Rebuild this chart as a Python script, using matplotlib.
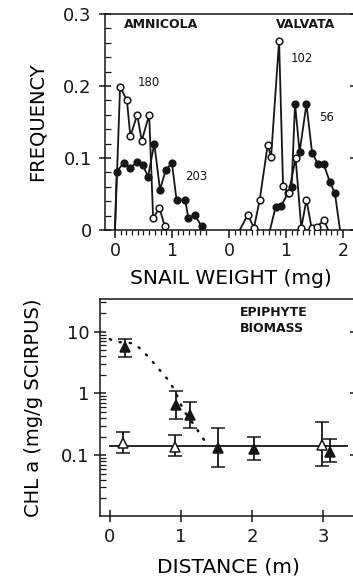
import numpy as np
import matplotlib
matplotlib.use("Agg")
import matplotlib.pyplot as plt

INK = '#161616'

# ---- top panel: size frequency distributions ----
amn_open_x = [0.0, 0.09, 0.21, 0.27, 0.39, 0.47, 0.60, 0.67, 0.78, 0.87]
amn_open_y = [0.0, 0.199, 0.180, 0.130, 0.160, 0.124, 0.160, 0.016, 0.031, 0.006]
amn_fill_x = [0.0, 0.03, 0.15, 0.26, 0.39, 0.49, 0.58, 0.69, 0.79, 0.89, 1.00, 1.08, 1.23, 1.29, 1.40, 1.52]
amn_fill_y = [0.0, 0.081, 0.093, 0.086, 0.094, 0.090, 0.074, 0.120, 0.056, 0.083, 0.093, 0.042, 0.042, 0.016, 0.021, 0.005]

val_open_x = [0.19, 0.33, 0.44, 0.54, 0.68, 0.74, 0.88, 0.95, 1.05, 1.17, 1.27, 1.36, 1.45, 1.54, 1.67, 1.74]
val_open_y = [0.0, 0.021, 0.003, 0.042, 0.118, 0.102, 0.263, 0.061, 0.051, 0.100, 0.003, 0.042, 0.003, 0.004, 0.014, 0.0]
val_fill_x = [0.72, 0.82, 0.92, 1.04, 1.10, 1.16, 1.24, 1.36, 1.46, 1.56, 1.66, 1.77, 1.86, 1.95]
val_fill_y = [0.0, 0.032, 0.034, 0.052, 0.060, 0.175, 0.108, 0.175, 0.107, 0.092, 0.092, 0.067, 0.051, 0.0]

n_labels = ['180', '203', '102', '56']

# ---- bottom panel: epiphyte biomass ----
fill_dist = [0.21, 0.93, 1.12, 1.52, 2.02, 3.09]
fill_chl = [5.7, 0.66, 0.45, 0.13, 0.127, 0.114]
fill_hi = [7.6, 1.1, 0.73, 0.28, 0.195, 0.18]
fill_lo = [3.9, 0.39, 0.28, 0.063, 0.083, 0.078]

open_dist = [0.19, 0.92, 2.98]
open_chl = [0.155, 0.137, 0.145]
open_hi = [0.24, 0.21, 0.35]
open_lo = [0.11, 0.098, 0.066]

mean_x = [0.0, 3.33]
mean_y = [0.142, 0.142]

curve_x = [0.0, 0.07, 0.33, 0.42, 0.56, 0.68, 0.82, 0.92, 1.03, 1.20, 1.29, 1.36]
curve_y = [7.6, 6.9, 6.5, 5.4, 3.7, 2.55, 1.65, 1.07, 0.54, 0.29, 0.20, 0.155]

VAL_OFFSET = 2.0  # valvata drawn on the right half of the shared axis

plt.rcParams['font.family'] = 'DejaVu Sans'
plt.rcParams['text.color'] = INK
plt.rcParams['axes.edgecolor'] = INK
plt.rcParams['xtick.color'] = INK
plt.rcParams['ytick.color'] = INK

fig = plt.figure(figsize=(3.53, 5.81), dpi=100)

# ---------- top ----------
# right spine sits just off the page, like the cropped scan
ax1 = fig.add_axes([105 / 353, 1 - 230 / 581, 251 / 353, 216 / 581])
line_kw = dict(color=INK, lw=1.3)


def series(ax, x, y, filled, offset=0.0, mark_ends=(1, None)):
    xs = np.asarray(x) + offset
    ax.plot(xs, y, **line_kw, zorder=2)
    s = slice(*mark_ends)
    ax.plot(xs[s], np.asarray(y)[s], ls='none', marker='o', ms=4.8,
            mfc=INK if filled else 'white', mec=INK, mew=1.1, zorder=3)


series(ax1, amn_fill_x, amn_fill_y, True, mark_ends=(1, None))
series(ax1, amn_open_x, amn_open_y, False, mark_ends=(1, None))
series(ax1, val_fill_x, val_fill_y, True, VAL_OFFSET, mark_ends=(1, -1))
series(ax1, val_open_x, val_open_y, False, VAL_OFFSET, mark_ends=(1, -1))

ax1.set_xlim(-0.175, 4.23)
ax1.set_ylim(0, 0.3)
ax1.set_xticks([0, 1, VAL_OFFSET, VAL_OFFSET + 1, VAL_OFFSET + 2])
ax1.set_xticklabels(['0', '1', '0', '1', '2'])
minor_x = list(np.arange(0, 1.61, 0.1)) + list(VAL_OFFSET + np.arange(0, 2.01, 0.1))
ax1.set_xticks(minor_x, minor=True)
ax1.set_yticks([0, 0.1, 0.2, 0.3])
ax1.set_yticklabels(['0', '0.1', '0.2', '0.3'])
ax1.set_yticks(np.arange(0, 0.301, 0.02), minor=True)
ax1.tick_params(axis='x', which='major', direction='out', length=6, width=1.1,
                labelsize=12.5, pad=3)
ax1.tick_params(axis='x', which='minor', direction='out', length=3.5, width=0.9)
ax1.tick_params(axis='y', which='major', direction='inout', length=9, width=1.1,
                labelsize=13, pad=5, right=True)
ax1.tick_params(axis='y', which='minor', direction='in', length=4, width=0.9)
for sp in ax1.spines.values():
    sp.set_linewidth(1.1)

ax1.set_ylabel('FREQUENCY', fontsize=14, labelpad=12)
ax1.set_xlabel('SNAIL WEIGHT (mg)', fontsize=14.5, labelpad=6)

ax1.text(0.15, 0.285, 'AMNICOLA', fontsize=9, fontweight='bold', va='center')
ax1.text(VAL_OFFSET + 0.82, 0.285, 'VALVATA', fontsize=9, fontweight='bold', va='center')
ax1.text(0.4, 0.205, n_labels[0], fontsize=8.5, va='center')
ax1.text(1.43, 0.075, n_labels[1], fontsize=8.5, va='center', ha='center')
ax1.text(VAL_OFFSET + 1.28, 0.238, n_labels[2], fontsize=8.5, va='center', ha='center')
ax1.text(VAL_OFFSET + 1.72, 0.156, n_labels[3], fontsize=8.5, va='center', ha='center')

# ---------- bottom ----------
ax2 = fig.add_axes([100 / 353, 1 - 516 / 581, 256 / 353, 217 / 581])
ax2.set_yscale('log')

ax2.plot(mean_x, mean_y, color=INK, lw=1.3, zorder=2)
ax2.plot(curve_x, curve_y, color=INK, lw=1.8, ls=(0, (0.5, 3.6)), zorder=2,
         dash_capstyle='round')

fill_err = [np.subtract(fill_chl, fill_lo), np.subtract(fill_hi, fill_chl)]
open_err = [np.subtract(open_chl, open_lo), np.subtract(open_hi, open_chl)]
ax2.errorbar(open_dist, open_chl, yerr=open_err, fmt='^', ms=6.5, mfc='white',
             mec=INK, mew=1.1, ecolor=INK, elinewidth=1.3, capsize=4.7,
             capthick=1.4, zorder=3)
ax2.errorbar(fill_dist, fill_chl, yerr=fill_err, fmt='^', ms=6.5, mfc=INK,
             mec=INK, mew=1.1, ecolor=INK, elinewidth=1.3, capsize=4.7,
             capthick=1.4, zorder=4)

ax2.set_xlim(-0.14, 3.46)
ax2.set_ylim(0.0103, 34)
ax2.set_xticks([0, 1, 2, 3])
ax2.set_yticks([0.1, 1, 10])
ax2.set_yticklabels(['0.1', '1', '10'])
ax2.yaxis.set_minor_locator(matplotlib.ticker.LogLocator(base=10, subs=np.arange(2, 10)))
ax2.yaxis.set_minor_formatter(matplotlib.ticker.NullFormatter())
ax2.tick_params(axis='x', which='major', direction='inout', length=8, width=1.1,
                labelsize=13, pad=5)
ax2.tick_params(axis='y', which='major', direction='inout', length=9, width=1.1,
                labelsize=13, pad=3, right=True)
ax2.tick_params(axis='y', which='minor', direction='in', length=4, width=0.9)
for sp in ax2.spines.values():
    sp.set_linewidth(1.1)

ax2.set_ylabel('CHL a (mg/g SCIRPUS)', fontsize=14, labelpad=13)
ax2.set_xlabel('DISTANCE (m)', fontsize=14.5, labelpad=8)
ax2.text(1.83, 15.5, 'EPIPHYTE\nBIOMASS', fontsize=9, fontweight='bold',
         va='center', linespacing=1.3)

fig.savefig('out.png', dpi=100)
